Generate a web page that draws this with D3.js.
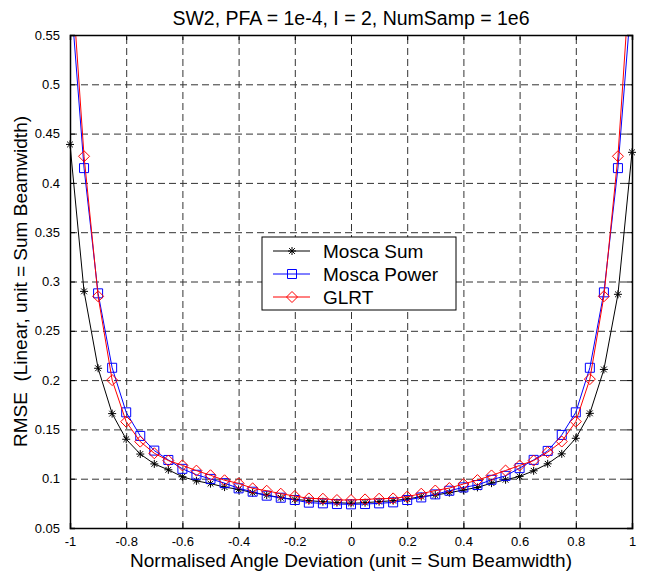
<!DOCTYPE html>
<html>
<head>
<meta charset="utf-8">
<script src="https://cdn.jsdelivr.net/npm/d3@7"></script>
<style>
  body { margin: 0; background: #fff; }
  text { font-family: "Liberation Sans", Arial, sans-serif; }
</style>
</head>
<body>
<div id="chart"></div>
<script>
// angle deviation, step 0.05 from -1 to 1
var angles = [-1, -0.95, -0.9, -0.85, -0.8, -0.75, -0.7, -0.65, -0.6, -0.55, -0.5,
  -0.45, -0.4, -0.35, -0.3, -0.25, -0.2, -0.15, -0.1, -0.05, 0,
  0.05, 0.1, 0.15, 0.2, 0.25, 0.3, 0.35, 0.4, 0.45, 0.5,
  0.55, 0.6, 0.65, 0.7, 0.75, 0.8, 0.85, 0.9, 0.95, 1];

var moscaSum = [0.439, 0.290, 0.212, 0.166, 0.140, 0.125, 0.115, 0.109, 0.102, 0.0978, 0.0950,
  0.0915, 0.0892, 0.0858, 0.0834, 0.0807, 0.0790, 0.0777, 0.0767, 0.0757, 0.0750,
  0.0757, 0.0767, 0.0777, 0.0794, 0.0818, 0.0834, 0.0858, 0.0885, 0.0912, 0.0955,
  0.0989, 0.1023, 0.108, 0.1151, 0.1252, 0.141, 0.1663, 0.2108, 0.287, 0.431];

var moscaPower = [0.600, 0.415, 0.288, 0.2125, 0.1673, 0.1434, 0.1285, 0.119, 0.110, 0.104, 0.0998,
  0.0955, 0.0902, 0.0868, 0.0828, 0.0807, 0.0784, 0.0757, 0.0750, 0.0743, 0.0740,
  0.0743, 0.0750, 0.0760, 0.0784, 0.0810, 0.0841, 0.0878, 0.0912, 0.0936, 0.0989,
  0.1029, 0.1107, 0.1191, 0.1282, 0.1444, 0.1673, 0.2125, 0.289, 0.415, 0.595];

var glrt = [0.635, 0.427, 0.285, 0.200, 0.1578, 0.1376, 0.1258, 0.1184, 0.1135, 0.1082, 0.1035,
  0.0984, 0.0953, 0.0902, 0.0878, 0.0848, 0.0824, 0.0800, 0.0797, 0.0784, 0.0784,
  0.0790, 0.0797, 0.0800, 0.0818, 0.0848, 0.0880, 0.0905, 0.0946, 0.0986, 0.1033,
  0.1083, 0.1134, 0.1184, 0.1269, 0.1377, 0.1579, 0.201, 0.285, 0.427, 0.640];

var seriesNames = ["Mosca Sum", "Mosca Power", "GLRT"];
var seriesColors = ["#000000", "#0000ff", "#ff0000"];
var seriesMarkers = ["star", "square", "diamond"];

var xTicks = [-1, -0.8, -0.6, -0.4, -0.2, 0, 0.2, 0.4, 0.6, 0.8, 1];
var yTicks = [0.05, 0.1, 0.15, 0.2, 0.25, 0.3, 0.35, 0.4, 0.45, 0.5, 0.55];

var W = 647, H = 576;
var margin = {top: 35, right: 15, bottom: 48, left: 70};
var width = W - margin.left - margin.right,
    height = H - margin.top - margin.bottom;

var svg = d3.select("#chart").append("svg")
  .attr("width", W).attr("height", H);

var g = svg.append("g")
  .attr("transform", "translate(" + margin.left + "," + margin.top + ")");

var x = d3.scaleLinear().domain([-1, 1]).range([0, width]);
var y = d3.scaleLinear().domain([0.05, 0.55]).range([height, 0]);

g.append("clipPath").attr("id", "clip")
  .append("rect").attr("width", width).attr("height", height);

// grid
g.append("g").attr("class", "grid")
  .attr("transform", "translate(0," + height + ")")
  .call(d3.axisBottom(x).tickValues(xTicks.slice(1, -1)).tickSize(-height).tickFormat(""));
g.append("g").attr("class", "grid")
  .call(d3.axisLeft(y).tickValues(yTicks.slice(1, -1)).tickSize(-width).tickFormat(""));
g.selectAll(".grid .domain").remove();
g.selectAll(".grid line")
  .attr("stroke", "#333").attr("stroke-width", 1).attr("stroke-dasharray", "7,4");

var series = [moscaSum, moscaPower, glrt];

var line = d3.line()
  .x(function(d, i) { return x(angles[i]); })
  .y(function(d) { return y(d); });

function markerPath(type) {
  if (type == "star") {
    var r = 4, q = r * 0.72;
    return "M" + (-r) + ",0L" + r + ",0M0," + (-r) + "L0," + r +
      "M" + (-q) + "," + (-q) + "L" + q + "," + q +
      "M" + (-q) + "," + q + "L" + q + "," + (-q);
  }
  if (type == "square") {
    return "M-4.5,-4.5L4.5,-4.5L4.5,4.5L-4.5,4.5Z";
  }
  return "M0,-5.5L5.5,0L0,5.5L-5.5,0Z";
}

series.forEach(function(vals, s) {
  g.append("path")
    .datum(vals)
    .attr("clip-path", "url(#clip)")
    .attr("fill", "none")
    .attr("stroke", seriesColors[s])
    .attr("stroke-width", 1)
    .attr("d", line);

  var pts = vals.map(function(v, i) { return {x: angles[i], y: v}; })
    .filter(function(d) { return d.y <= 0.55 && d.y >= 0.05; });

  g.selectAll(".m" + s)
    .data(pts)
    .enter().append("path")
    .attr("class", "m" + s)
    .attr("transform", function(d) { return "translate(" + x(d.x) + "," + y(d.y) + ")"; })
    .attr("d", markerPath(seriesMarkers[s]))
    .attr("fill", "none")
    .attr("stroke", seriesColors[s])
    .attr("stroke-width", 1);
});

// axes, ticks inside on all four sides
var fmt = function(d) { return String(+d.toFixed(2)); };

var xAxis = g.append("g")
  .attr("transform", "translate(0," + height + ")")
  .call(d3.axisBottom(x).tickValues(xTicks).tickSize(-5).tickPadding(9).tickFormat(fmt));
var yAxis = g.append("g")
  .call(d3.axisLeft(y).tickValues(yTicks).tickSize(-5).tickPadding(10).tickFormat(fmt));
g.append("g")
  .call(d3.axisTop(x).tickValues(xTicks).tickSize(-5).tickFormat(""));
g.append("g")
  .attr("transform", "translate(" + width + ",0)")
  .call(d3.axisRight(y).tickValues(yTicks).tickSize(-5).tickFormat(""));

g.selectAll(".domain").attr("stroke", "#000").attr("stroke-width", 1.5);
g.selectAll(".tick text").attr("font-size", 13).attr("fill", "#000")
  .style("font-family", "'Liberation Sans', Arial, sans-serif");

// legend
var leg = svg.append("g").attr("transform", "translate(262,237)");
leg.append("rect").attr("width", 194).attr("height", 73)
  .attr("fill", "#fff").attr("stroke", "#000").attr("stroke-width", 1);
seriesNames.forEach(function(name, s) {
  var cy = 14 + s * 23;
  leg.append("line").attr("x1", 11).attr("x2", 48).attr("y1", cy).attr("y2", cy)
    .attr("stroke", seriesColors[s]).attr("stroke-width", 1);
  leg.append("path").attr("transform", "translate(30," + cy + ")")
    .attr("d", markerPath(seriesMarkers[s]))
    .attr("fill", "none").attr("stroke", seriesColors[s]);
  leg.append("text").attr("x", 61).attr("y", cy + 7)
    .attr("font-size", 19).text(name);
});

// titles
svg.append("text")
  .attr("x", margin.left + width / 2).attr("y", 25)
  .attr("text-anchor", "middle").attr("font-size", 19.5)
  .text("SW2, PFA = 1e-4, I = 2, NumSamp = 1e6");

svg.append("text")
  .attr("x", margin.left + width / 2).attr("y", 567)
  .attr("text-anchor", "middle").attr("font-size", 19)
  .text("Normalised Angle Deviation (unit = Sum Beamwidth)");

svg.append("text")
  .attr("transform", "translate(27," + (margin.top + height / 2) + ") rotate(-90)")
  .attr("text-anchor", "middle").attr("font-size", 19)
  .style("white-space", "pre")
  .text("RMSE  (Linear, unit = Sum Beamwidth)");
</script>
</body>
</html>
